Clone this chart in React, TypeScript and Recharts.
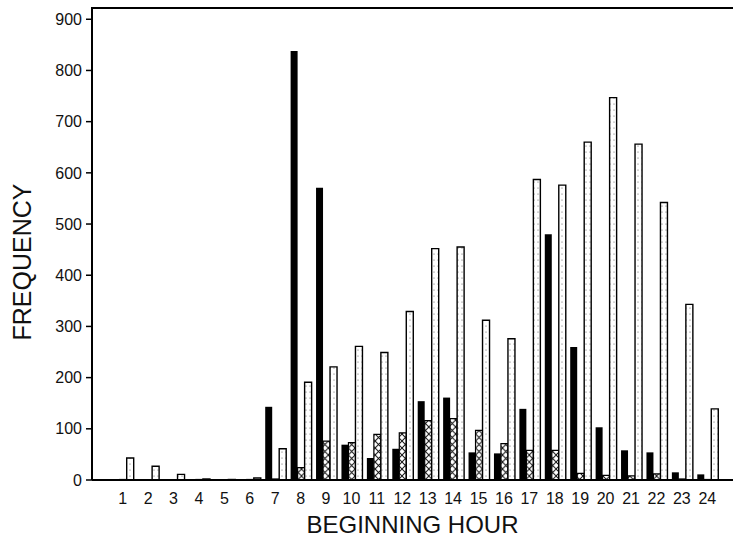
import { BarChart, Bar, XAxis, YAxis } from "recharts";

const hours = ["1", "2", "3", "4", "5", "6", "7", "8", "9", "10", "11", "12", "13", "14", "15", "16", "17", "18", "19", "20", "21", "22", "23", "24"];
const solidSeries = [2, 1, 1, 1, 1, 2, 143, 838, 571, 69, 43, 61, 154, 161, 54, 52, 139, 480, 260, 103, 58, 54, 15, 11];
const hatchedSeries = [1, 0, 0, 1, 0, 1, 2, 24, 76, 73, 89, 92, 116, 120, 97, 71, 58, 58, 13, 9, 8, 12, 2, 1];
const dottedSeries = [43, 27, 11, 2, 1, 4, 61, 191, 221, 261, 249, 329, 452, 455, 312, 276, 587, 576, 660, 747, 656, 542, 343, 139];
const freqTicks = [0, 100, 200, 300, 400, 500, 600, 700, 800, 900];
const freqMax = 922;

const data = hours.map((h, i) => ({
  hour: h,
  solid: solidSeries[i],
  hatched: hatchedSeries[i],
  dotted: dottedSeries[i],
}));

const font = "'Liberation Sans', Arial, sans-serif";

const FreqLabel = () => (
  <text
    x={22}
    y={262}
    transform="rotate(-90 22 262)"
    textAnchor="middle"
    dominantBaseline="central"
    fontFamily={font}
    fontSize={25}
    fill="#111"
  >
    FREQUENCY
  </text>
);

export default function App() {
  return (
    <div style={{ position: "absolute", left: 0, top: 0, width: 733, height: 538, background: "#fff" }}>
      <BarChart
        width={733}
        height={538}
        data={data}
        margin={{ top: 8, right: 0, left: 0, bottom: 0 }}
        barCategoryGap={2.7}
        barGap={0}
      >
        <defs>
          <pattern id="xhatch" width="6.7" height="7" patternUnits="userSpaceOnUse">
            <rect width="6.7" height="7" fill="#fff" />
            <path d="M0,0 L6.7,7 M6.7,0 L0,7" stroke="#111" strokeWidth={1} />
          </pattern>
          <pattern id="dots" width="4" height="6" patternUnits="userSpaceOnUse">
            <rect width="4" height="6" fill="#fff" />
            <circle cx="2" cy="2" r="0.55" fill="#555" />
          </pattern>
        </defs>
        {/* top edge of the plot frame */}
        <line x1={91} y1={8} x2={733} y2={8} stroke="#000" strokeWidth={2} />
        <XAxis
          dataKey="hour"
          height={58}
          padding={{ left: 18, right: 13 }}
          axisLine={{ stroke: "#000", strokeWidth: 2 }}
          tickLine={false}
          tickSize={0}
          tickMargin={13}
          interval={0}
          tick={{ fontFamily: font, fontSize: 16, fill: "#111" }}
          label={{
            value: "BEGINNING HOUR",
            position: "insideBottom",
            offset: 5,
            style: { fontFamily: font, fontSize: 24, fill: "#111" },
          }}
        />
        <YAxis
          width={92}
          domain={[0, freqMax]}
          ticks={freqTicks}
          axisLine={{ stroke: "#000", strokeWidth: 2 }}
          tickLine={{ stroke: "#000", strokeWidth: 1.5 }}
          tickSize={6}
          tickMargin={4}
          tick={{ fontFamily: font, fontSize: 16, fill: "#111" }}
          label={<FreqLabel />}
        />
        <Bar dataKey="solid" fill="#000" isAnimationActive={false} />
        <Bar dataKey="hatched" fill="url(#xhatch)" stroke="#000" strokeWidth={1.2} isAnimationActive={false} />
        <Bar dataKey="dotted" fill="url(#dots)" stroke="#000" strokeWidth={1.4} isAnimationActive={false} />
      </BarChart>
    </div>
  );
}
